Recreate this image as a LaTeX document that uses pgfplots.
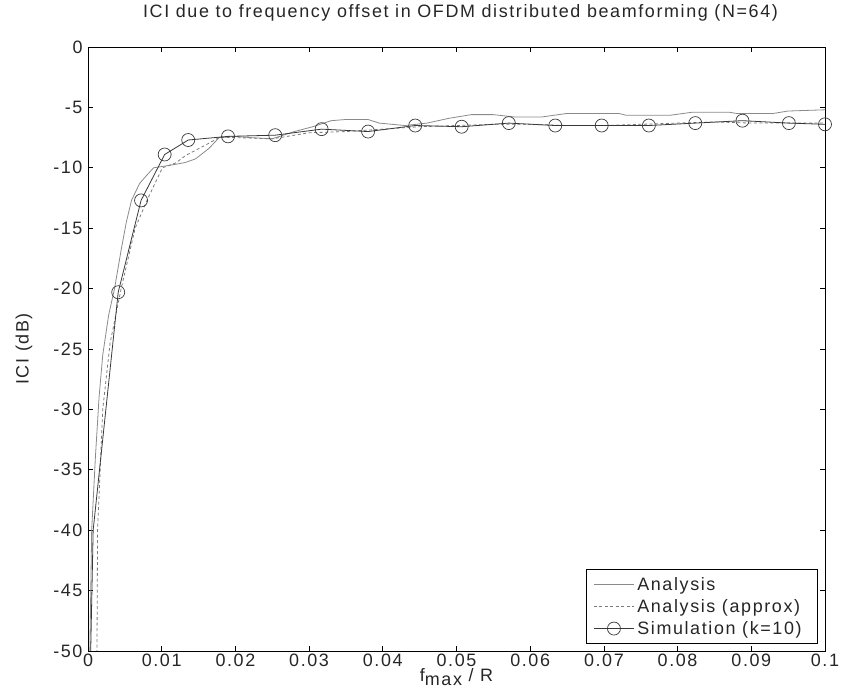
\documentclass[border=0pt]{standalone}
\usepackage{pgfplots}
\pgfplotsset{compat=1.18}
\usepackage{fontspec}
\setmainfont{Liberation Sans}[LetterSpace=9]
\definecolor{anacol}{HTML}{8A8A8A}
\definecolor{appcol}{HTML}{7A7A7A}
\definecolor{simcol}{HTML}{383838}
\begin{document}
\begin{tikzpicture}
\begin{axis}[
  scale only axis, width=737bp, height=604bp,
  xmin=0, xmax=0.1, ymin=-50, ymax=0,
  xtick={0,0.01,0.02,0.03,0.04,0.05,0.06,0.07,0.08,0.09,0.1},
  xticklabels={0,0.01,0.02,0.03,0.04,0.05,0.06,0.07,0.08,0.09,0.1},
  ytick={-50,-45,-40,-35,-30,-25,-20,-15,-10,-5,0},
  yticklabels={-50,-45,-40,-35,-30,-25,-20,-15,-10,-5,0},
  tick align=inside, major tick length=5bp,
  tick style={black, line width=0.8bp},
  axis line style={black, line width=0.9bp},
  ticklabel style={font=\fontsize{18}{22}\selectfont, text=black!85},
  xticklabel style={yshift=1bp},
  yticklabel style={xshift=-2bp},
  title={ICI due to frequency offset in OFDM distributed beamforming (N=64)},
  title style={at={(axis description cs:0.5,1.0464)}, anchor=center, xshift=4bp, font=\fontsize{18}{22}\selectfont, text=black!85},
  xlabel={f\raisebox{-4bp}{max} / R},
  xlabel style={at={(axis description cs:0.5,-0.0513)}, anchor=base, font=\fontsize{18}{22}\selectfont, text=black!85},
  ylabel={ICI (dB)},
  ylabel style={at={(axis description cs:-0.0868,0.5)}, anchor=center, rotate=0, font=\fontsize{18}{22}\selectfont, text=black!85},
  legend cell align=left,
  legend style={at={(axis description cs:1,0)}, anchor=south east, xshift=-7bp, yshift=7bp,
    draw=black, line width=0.8bp, fill=white, font=\fontsize{18}{22}\selectfont, text=black!85,
    inner xsep=7bp, inner ysep=4bp, row sep=0bp, nodes={inner xsep=3bp, inner ysep=3.8bp}},
  legend image code/.code={\draw[#1, mark indices={2}] plot coordinates {(0bp,0bp) (20bp,0bp) (40bp,0bp)};},
  clip=true,
]
\addplot[anacol, line width=0.8bp] coordinates {
(0.0002,-52) (0.0005,-40) (0.0010,-34) (0.0015,-29) (0.0020,-25.5) (0.0028,-22.2)
(0.0036,-20.0) (0.0045,-16.8) (0.0052,-14.5) (0.0059,-12.7) (0.0070,-11.3)
(0.0080,-10.6) (0.0089,-10.0) (0.0105,-9.85) (0.0120,-9.7) (0.0132,-9.56)
(0.0146,-9.26) (0.0164,-8.4) (0.0178,-7.5) (0.0200,-7.4) (0.0220,-7.5)
(0.0250,-7.6) (0.0280,-7.0) (0.0305,-6.6) (0.0330,-6.1) (0.0350,-6.0)
(0.0380,-6.0) (0.0395,-6.3) (0.0430,-6.5) (0.0460,-6.3) (0.0490,-5.9)
(0.0520,-5.6) (0.0550,-5.6) (0.0580,-5.8) (0.0615,-5.8) (0.0650,-5.5)
(0.0720,-5.5) (0.0730,-5.65) (0.0790,-5.65) (0.0820,-5.4) (0.0870,-5.4)
(0.0880,-5.5) (0.0930,-5.5) (0.0950,-5.3) (0.1000,-5.2)
};
\addlegendentry{Analysis}
\addplot[appcol, line width=0.8bp, dash pattern=on 3bp off 2.5bp] coordinates {
(0.0012,-52) (0.0013,-40) (0.0020,-30) (0.0030,-24.5) (0.0045,-20) (0.0064,-15)
(0.0080,-12.7) (0.0101,-10) (0.0119,-9.6) (0.0132,-9.0) (0.0160,-8.1)
(0.0178,-7.5) (0.0200,-7.5) (0.0250,-7.6) (0.0300,-7.1) (0.0350,-7.0)
(0.0400,-6.8) (0.0450,-6.6) (0.0500,-6.5) (0.0550,-6.4) (0.0600,-6.4)
(0.0650,-6.5) (0.0700,-6.5) (0.0750,-6.4) (0.0800,-6.3) (0.0850,-6.2)
(0.0900,-6.3) (0.1000,-6.3)
};
\addlegendentry{Analysis (approx)}
\addplot[simcol, line width=0.8bp, mark=o, mark size=6.5bp,
  mark options={solid, line width=0.7bp, draw=simcol},
  mark indices={2,3,4,5,6,7,8,9,10,11,12,13,14,15,16,17,18,19}] coordinates {
(0.0002,-55) (0.0007,-40.0) (0.0041,-20.3) (0.0072,-12.7) (0.0104,-8.9)
(0.0136,-7.7) (0.0190,-7.4) (0.0254,-7.3) (0.0317,-6.8) (0.0380,-7.0)
(0.0444,-6.5) (0.0507,-6.6) (0.0571,-6.3) (0.0634,-6.5) (0.0697,-6.5)
(0.0761,-6.5) (0.0824,-6.3) (0.0888,-6.1) (0.0951,-6.3) (0.1000,-6.4)
};
\addlegendentry{Simulation (k=10)\hspace*{6bp}}
\coordinate (LL) at (rel axis cs:0,0);
\coordinate (UR) at (rel axis cs:1,1);
\end{axis}
\path (LL) ++(-88bp,-39bp) coordinate (A);
\path (UR) ++(21bp,47bp) coordinate (B);
\pgfresetboundingbox
\path (A) rectangle (B);
\end{tikzpicture}
\end{document}
